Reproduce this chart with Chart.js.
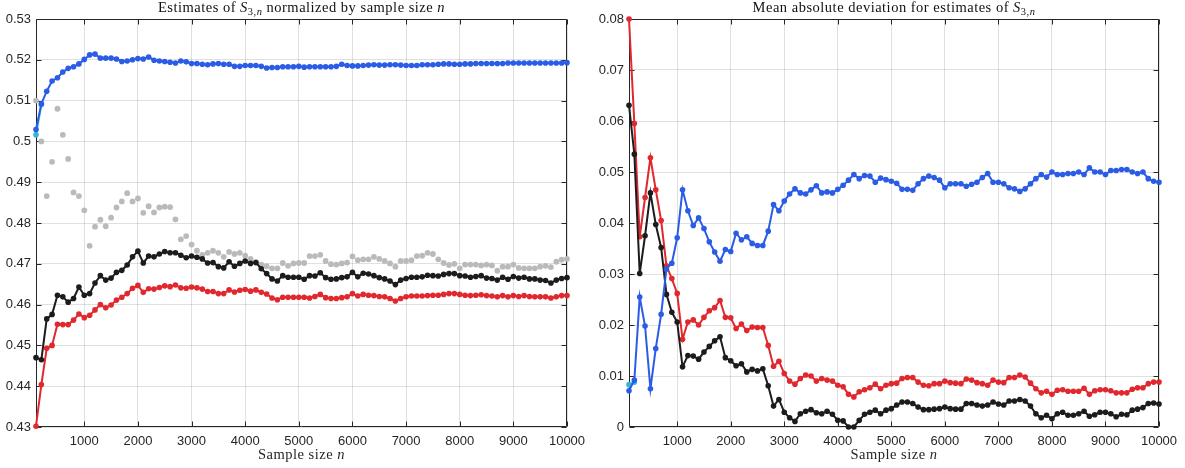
<!DOCTYPE html>
<html>
<head>
<meta charset="utf-8">
<script src="https://cdn.jsdelivr.net/npm/chart.js@4.4.1/dist/chart.umd.min.js"></script>
<style>
  html, body { margin: 0; padding: 0; background: #ffffff; }
  #wrap { position: relative; width: 1185px; height: 468px; overflow: hidden; }
  .panel { position: absolute; top: 0; height: 468px; }
</style>
</head>
<body>
<div id="wrap">
  <div class="panel" style="left:0;width:585px"><canvas id="normChart"></canvas></div>
  <div class="panel" style="left:585px;width:600px"><canvas id="madChart"></canvas></div>
</div>
<script>
// ---- sample sizes (x positions of every estimate) ----
const sampleSizes = [
  100, 200, 300, 400, 500, 600, 700, 800, 900, 1000,
  1100, 1200, 1300, 1400, 1500, 1600, 1700, 1800, 1900, 2000,
  2100, 2200, 2300, 2400, 2500, 2600, 2700, 2800, 2900, 3000,
  3100, 3200, 3300, 3400, 3500, 3600, 3700, 3800, 3900, 4000,
  4100, 4200, 4300, 4400, 4500, 4600, 4700, 4800, 4900, 5000,
  5100, 5200, 5300, 5400, 5500, 5600, 5700, 5800, 5900, 6000,
  6100, 6200, 6300, 6400, 6500, 6600, 6700, 6800, 6900, 7000,
  7100, 7200, 7300, 7400, 7500, 7600, 7700, 7800, 7900, 8000,
  8100, 8200, 8300, 8400, 8500, 8600, 8700, 8800, 8900, 9000,
  9100, 9200, 9300, 9400, 9500, 9600, 9700, 9800, 9900, 10000
];
const shortSizes = [100, 200];

// ---- normalized estimates S_{3,n} / n ----
const normBlue = [
  0.5029, 0.5092, 0.5123, 0.5148, 0.5156, 0.5170, 0.5179, 0.5183, 0.5190, 0.5201,
  0.5212, 0.5214, 0.5204, 0.5204, 0.5204, 0.5202, 0.5196, 0.5197, 0.5200, 0.5203,
  0.5202, 0.5207, 0.5199, 0.5197, 0.5196, 0.5194, 0.5192, 0.5197, 0.5195, 0.5191,
  0.5191, 0.5189, 0.5188, 0.5190, 0.5191, 0.5189, 0.5189, 0.5184, 0.5184, 0.5186,
  0.5186, 0.5186, 0.5184, 0.5180, 0.5181, 0.5181, 0.5183, 0.5183, 0.5183, 0.5184,
  0.5182, 0.5183, 0.5183, 0.5183, 0.5183, 0.5183, 0.5184, 0.5189, 0.5186, 0.5185,
  0.5185, 0.5186, 0.5187, 0.5188, 0.5187, 0.5187, 0.5188, 0.5188, 0.5187, 0.5186,
  0.5186, 0.5186, 0.5188, 0.5188, 0.5188, 0.5189, 0.5190, 0.5190, 0.5189, 0.5189,
  0.5190, 0.5190, 0.5191, 0.5191, 0.5191, 0.5191, 0.5191, 0.5191, 0.5192, 0.5192,
  0.5192, 0.5192, 0.5192, 0.5192, 0.5192, 0.5192, 0.5192, 0.5192, 0.5192, 0.5193
];
const normBlack = [
  0.4470, 0.4465, 0.4565, 0.4576, 0.4623, 0.4619, 0.4606, 0.4615, 0.4643, 0.4623,
  0.4627, 0.4653, 0.4671, 0.4660, 0.4665, 0.4679, 0.4684, 0.4697, 0.4717, 0.4731,
  0.4702, 0.4719, 0.4717, 0.4724, 0.4730, 0.4727, 0.4727, 0.4721, 0.4715, 0.4719,
  0.4716, 0.4712, 0.4702, 0.4703, 0.4693, 0.4690, 0.4705, 0.4694, 0.4701, 0.4707,
  0.4701, 0.4703, 0.4688, 0.4676, 0.4663, 0.4658, 0.4671, 0.4667, 0.4667, 0.4667,
  0.4662, 0.4671, 0.4670, 0.4678, 0.4666, 0.4662, 0.4663, 0.4666, 0.4668, 0.4679,
  0.4668, 0.4677, 0.4675, 0.4671, 0.4666, 0.4663, 0.4658, 0.4649, 0.4660, 0.4664,
  0.4667, 0.4667, 0.4668, 0.4672, 0.4671, 0.4670, 0.4674, 0.4676, 0.4676, 0.4671,
  0.4670, 0.4667, 0.4669, 0.4671, 0.4665, 0.4664, 0.4660, 0.4667, 0.4662, 0.4669,
  0.4665, 0.4667, 0.4663, 0.4663, 0.4660, 0.4659, 0.4653, 0.4660, 0.4664, 0.4666
];
const normRed = [
  0.4302, 0.4404, 0.4493, 0.4500, 0.4552, 0.4551, 0.4551, 0.4562, 0.4577, 0.4568,
  0.4574, 0.4587, 0.4600, 0.4592, 0.4599, 0.4611, 0.4618, 0.4627, 0.4640, 0.4647,
  0.4630, 0.4639, 0.4638, 0.4642, 0.4646, 0.4644, 0.4648, 0.4641, 0.4640, 0.4643,
  0.4641, 0.4638, 0.4632, 0.4632, 0.4627, 0.4627, 0.4636, 0.4631, 0.4635, 0.4637,
  0.4633, 0.4636, 0.4630, 0.4626, 0.4616, 0.4612, 0.4618, 0.4618, 0.4618, 0.4618,
  0.4618, 0.4616, 0.4620, 0.4625, 0.4617, 0.4615, 0.4615, 0.4617, 0.4619, 0.4627,
  0.4621, 0.4625, 0.4623, 0.4622, 0.4620, 0.4619, 0.4615, 0.4609, 0.4615, 0.4619,
  0.4621, 0.4621, 0.4621, 0.4622, 0.4623, 0.4623, 0.4625, 0.4627, 0.4627, 0.4625,
  0.4623, 0.4622, 0.4623, 0.4624, 0.4622, 0.4621, 0.4619, 0.4622, 0.4619, 0.4622,
  0.4620, 0.4622, 0.4620, 0.4619, 0.4619, 0.4619, 0.4616, 0.4619, 0.4622, 0.4622
];
const normGrey = [
  0.5100, 0.5000, 0.4866, 0.4950, 0.5080, 0.5016, 0.4957, 0.4875, 0.4866, 0.4831,
  0.4744, 0.4791, 0.4808, 0.4792, 0.4813, 0.4838, 0.4853, 0.4873, 0.4853, 0.4860,
  0.4825, 0.4841, 0.4826, 0.4838, 0.4840, 0.4839, 0.4809, 0.4760, 0.4768, 0.4747,
  0.4732, 0.4722, 0.4727, 0.4732, 0.4727, 0.4717, 0.4729, 0.4724, 0.4727, 0.4720,
  0.4712, 0.4704, 0.4698, 0.4694, 0.4689, 0.4689, 0.4702, 0.4695, 0.4701, 0.4702,
  0.4702, 0.4719, 0.4719, 0.4722, 0.4707, 0.4699, 0.4698, 0.4701, 0.4703, 0.4718,
  0.4709, 0.4711, 0.4711, 0.4717, 0.4712, 0.4707, 0.4701, 0.4693, 0.4707, 0.4707,
  0.4709, 0.4719, 0.4720, 0.4727, 0.4724, 0.4711, 0.4702, 0.4697, 0.4700, 0.4689,
  0.4698, 0.4698, 0.4698, 0.4696, 0.4698, 0.4696, 0.4683, 0.4693, 0.4693, 0.4698,
  0.4690, 0.4689, 0.4689, 0.4689, 0.4693, 0.4695, 0.4692, 0.4705, 0.4710, 0.4712
];
const normCyan = [0.5016, 0.5090];

// ---- mean absolute deviations ----
const madBlue = [
  0.0071, 0.0092, 0.0255, 0.0198, 0.0075, 0.0154, 0.0221, 0.0310, 0.0321, 0.0371,
  0.0465, 0.0424, 0.0395, 0.0410, 0.0389, 0.0363, 0.0343, 0.0325, 0.0348, 0.0344,
  0.0380, 0.0367, 0.0373, 0.0360, 0.0356, 0.0356, 0.0384, 0.0436, 0.0424, 0.0443,
  0.0457, 0.0467, 0.0459, 0.0457, 0.0465, 0.0473, 0.0459, 0.0461, 0.0459, 0.0466,
  0.0474, 0.0484, 0.0495, 0.0487, 0.0493, 0.0492, 0.0480, 0.0488, 0.0485, 0.0482,
  0.0478, 0.0466, 0.0466, 0.0464, 0.0477, 0.0487, 0.0492, 0.0489, 0.0484, 0.0469,
  0.0477, 0.0477, 0.0477, 0.0472, 0.0476, 0.0480, 0.0489, 0.0497, 0.0480, 0.0480,
  0.0477, 0.0469, 0.0467, 0.0462, 0.0467, 0.0477, 0.0487, 0.0495, 0.0490, 0.0500,
  0.0495, 0.0495, 0.0497, 0.0497, 0.0500, 0.0495, 0.0508, 0.0500, 0.0500, 0.0495,
  0.0503, 0.0503, 0.0505, 0.0505, 0.0500, 0.0497, 0.0500, 0.0487, 0.0482, 0.0480
];
const madBlack = [
  0.0631, 0.0535, 0.0301, 0.0375, 0.0459, 0.0397, 0.0352, 0.0260, 0.0225, 0.0206,
  0.0118, 0.0140, 0.0139, 0.0133, 0.0147, 0.0158, 0.0169, 0.0177, 0.0136, 0.0130,
  0.0120, 0.0124, 0.0108, 0.0113, 0.0110, 0.0114, 0.0081, 0.0041, 0.0054, 0.0029,
  0.0018, 0.0011, 0.0026, 0.0031, 0.0034, 0.0028, 0.0026, 0.0031, 0.0025, 0.0013,
  0.0012, 0.0000, 0.0000, 0.0013, 0.0025, 0.0029, 0.0033, 0.0026, 0.0033, 0.0036,
  0.0043, 0.0049, 0.0049, 0.0046, 0.0039, 0.0034, 0.0034, 0.0035, 0.0036, 0.0039,
  0.0036, 0.0035, 0.0035, 0.0046, 0.0046, 0.0043, 0.0041, 0.0043, 0.0049, 0.0045,
  0.0043, 0.0051, 0.0051, 0.0054, 0.0051, 0.0041, 0.0026, 0.0018, 0.0023, 0.0016,
  0.0026, 0.0029, 0.0023, 0.0023, 0.0026, 0.0031, 0.0021, 0.0024, 0.0029, 0.0029,
  0.0026, 0.0020, 0.0025, 0.0024, 0.0033, 0.0035, 0.0038, 0.0046, 0.0047, 0.0045
];
const madRed = [
  0.0800, 0.0595, 0.0373, 0.0450, 0.0528, 0.0465, 0.0405, 0.0316, 0.0291, 0.0262,
  0.0172, 0.0206, 0.0210, 0.0200, 0.0215, 0.0228, 0.0234, 0.0248, 0.0215, 0.0214,
  0.0193, 0.0202, 0.0189, 0.0196, 0.0195, 0.0195, 0.0160, 0.0119, 0.0129, 0.0105,
  0.0090, 0.0084, 0.0095, 0.0102, 0.0100, 0.0090, 0.0095, 0.0092, 0.0090, 0.0082,
  0.0079, 0.0064, 0.0059, 0.0069, 0.0073, 0.0077, 0.0084, 0.0075, 0.0082, 0.0085,
  0.0086, 0.0095, 0.0097, 0.0097, 0.0088, 0.0082, 0.0081, 0.0085, 0.0085, 0.0090,
  0.0087, 0.0086, 0.0085, 0.0094, 0.0092, 0.0087, 0.0085, 0.0082, 0.0092, 0.0088,
  0.0087, 0.0097, 0.0097, 0.0102, 0.0098, 0.0086, 0.0075, 0.0067, 0.0070, 0.0064,
  0.0072, 0.0073, 0.0070, 0.0070, 0.0070, 0.0076, 0.0064, 0.0071, 0.0073, 0.0073,
  0.0071, 0.0067, 0.0067, 0.0067, 0.0074, 0.0077, 0.0077, 0.0085, 0.0088, 0.0088
];
const madCyan = [0.0083, 0.0088];

// ---- tick labels ----
const xTicks = [1000, 2000, 3000, 4000, 5000, 6000, 7000, 8000, 9000, 10000];
const normYTicks = [0.43, 0.44, 0.45, 0.46, 0.47, 0.48, 0.49, 0.50, 0.51, 0.52, 0.53];
const madYTicks = [0, 0.01, 0.02, 0.03, 0.04, 0.05, 0.06, 0.07, 0.08];

// ---- titles (rich text runs: plain, italic, subscript) ----
const S3n = [
  { t: 'S', it: true },
  { t: '3,', sub: true },
  { t: 'n', sub: true, it: true }
];
const normTitle = [{ t: 'Estimates of ' }, ...S3n, { t: ' normalized by sample size ' }, { t: 'n', it: true }];
const madTitle = [{ t: 'Mean absolute deviation for estimates of ' }, ...S3n];
const xTitle = [{ t: 'Sample size ' }, { t: 'n', it: true }];

const COLORS = {
  blue: '#2b5ce6',
  black: '#1c1c1c',
  red: '#e0282e',
  grey: '#bababa',
  cyan: '#2fb6dc',
  axis: '#262626',
  grid: 'rgba(38,38,38,0.14)'
};

const SERIF = '"Liberation Serif", "DejaVu Serif", serif';
const SANS = '"Liberation Sans", Arial, sans-serif';

function pts(xs, ys) {
  return xs.map((n, i) => ({ x: n, y: ys[i] }));
}

function lineSet(label, xs, ys, color, order) {
  return {
    label,
    data: pts(xs, ys),
    borderColor: color,
    backgroundColor: color,
    borderWidth: 2,
    pointRadius: 2.8,
    pointHoverRadius: 2.8,
    pointBorderWidth: 0,
    pointBackgroundColor: color,
    tension: 0,
    clip: false,
    order
  };
}

function dotSet(label, xs, ys, color, order) {
  return {
    label,
    data: pts(xs, ys),
    showLine: false,
    borderColor: color,
    backgroundColor: color,
    pointRadius: 2.9,
    pointHoverRadius: 2.9,
    pointBorderWidth: 0,
    pointBackgroundColor: color,
    clip: false,
    order
  };
}

// draws a sequence of text runs centred on cx at baseline y
function drawRuns(ctx, runs, cx, y, size, spacing) {
  const fontFor = (r) => {
    const s = r.sub ? size * 0.72 : size;
    return (r.it ? 'italic ' : '') + s + 'px ' + SERIF;
  };
  ctx.letterSpacing = spacing + 'px';
  let total = 0;
  runs.forEach(r => { ctx.font = fontFor(r); total += ctx.measureText(r.t).width; });
  let x = cx - total / 2;
  ctx.textBaseline = 'alphabetic';
  ctx.textAlign = 'left';
  runs.forEach(r => {
    ctx.font = fontFor(r);
    ctx.fillText(r.t, x, r.sub ? y + size * 0.22 : y);
    x += ctx.measureText(r.t).width;
  });
  ctx.letterSpacing = '0px';
}

// MATLAB-style box: frame plus inward ticks on all four sides
const boxPlugin = {
  id: 'box',
  beforeDatasetsDraw(chart) {
    const { ctx, chartArea: a, scales } = chart;
    const x = scales.x, y = scales.y;
    const L = Math.round(a.left) + 0.5, R = Math.round(a.right) - 0.5;
    const T = Math.round(a.top) + 0.5, B = Math.round(a.bottom) - 0.5;
    const len = 5;
    ctx.save();
    ctx.strokeStyle = COLORS.axis;
    ctx.lineWidth = 1;
    ctx.beginPath();
    ctx.rect(L, T, R - L, B - T);
    x.ticks.forEach(t => {
      const px = Math.round(x.getPixelForValue(t.value)) + 0.5;
      ctx.moveTo(px, B); ctx.lineTo(px, B - len);
      ctx.moveTo(px, T); ctx.lineTo(px, T + len);
    });
    y.ticks.forEach(t => {
      const py = Math.round(y.getPixelForValue(t.value)) + 0.5;
      ctx.moveTo(L, py); ctx.lineTo(L + len, py);
      ctx.moveTo(R, py); ctx.lineTo(R - len, py);
    });
    ctx.stroke();
    ctx.restore();
  },
  afterDraw(chart, args, opts) {
    const { ctx, chartArea: a } = chart;
    const cx = (a.left + a.right) / 2;
    ctx.save();
    ctx.fillStyle = '#111111';
    drawRuns(ctx, opts.title, cx, 12, 14.5, 0.5);
    ctx.fillStyle = '#262626';
    drawRuns(ctx, xTitle, cx, 459, 14.5, 0.5);
    ctx.restore();
  }
};

function makeChart(canvasId, datasets, yTicks, yMin, yMax, yAxisWidth, padRight, title) {
  return new Chart(document.getElementById(canvasId), {
    type: 'line',
    data: { datasets },
    plugins: [boxPlugin],
    options: {
      responsive: true,
      maintainAspectRatio: false,
      animation: false,
      events: [],
      layout: { padding: { top: 19, right: padRight, bottom: 0, left: 0 } },
      plugins: {
        legend: { display: false },
        tooltip: { enabled: false },
        title: { display: false },
        box: { title }
      },
      scales: {
        x: {
          type: 'linear',
          min: 100,
          max: 10000,
          afterBuildTicks: (s) => { s.ticks = xTicks.map(v => ({ value: v })); },
          afterFit: (s) => { s.height = 41; s.paddingLeft = 0; s.paddingRight = 0; },
          border: { display: false },
          grid: { color: COLORS.grid, lineWidth: 1, drawTicks: false },
          ticks: {
            color: COLORS.axis,
            font: { family: SANS, size: 13 },
            padding: 7,
            maxRotation: 0,
            autoSkip: false,
            callback: (v) => String(v)
          }
        },
        y: {
          type: 'linear',
          min: yMin,
          max: yMax,
          afterBuildTicks: (s) => { s.ticks = yTicks.map(v => ({ value: v })); },
          afterFit: (s) => { s.width = yAxisWidth; s.paddingTop = 0; s.paddingBottom = 0; },
          border: { display: false },
          grid: { color: COLORS.grid, lineWidth: 1, drawTicks: false },
          ticks: {
            color: COLORS.axis,
            font: { family: SANS, size: 13 },
            padding: 5,
            autoSkip: false,
            callback: (v) => String(Number(v.toFixed(2)))
          }
        }
      }
    }
  });
}

makeChart('normChart', [
  lineSet('blue', sampleSizes, normBlue, COLORS.blue, 0),
  lineSet('cyan', shortSizes, normCyan, COLORS.cyan, 1),
  lineSet('black', sampleSizes, normBlack, COLORS.black, 2),
  lineSet('red', sampleSizes, normRed, COLORS.red, 3),
  dotSet('grey', sampleSizes, normGrey, COLORS.grey, 4)
], normYTicks, 0.43, 0.53, 36, 18, normTitle);

makeChart('madChart', [
  lineSet('blue', sampleSizes, madBlue, COLORS.blue, 0),
  lineSet('cyan', shortSizes, madCyan, COLORS.cyan, 1),
  lineSet('black', sampleSizes, madBlack, COLORS.black, 2),
  lineSet('red', sampleSizes, madRed, COLORS.red, 3)
], madYTicks, 0, 0.08, 44, 26, madTitle);
</script>
</body>
</html>
